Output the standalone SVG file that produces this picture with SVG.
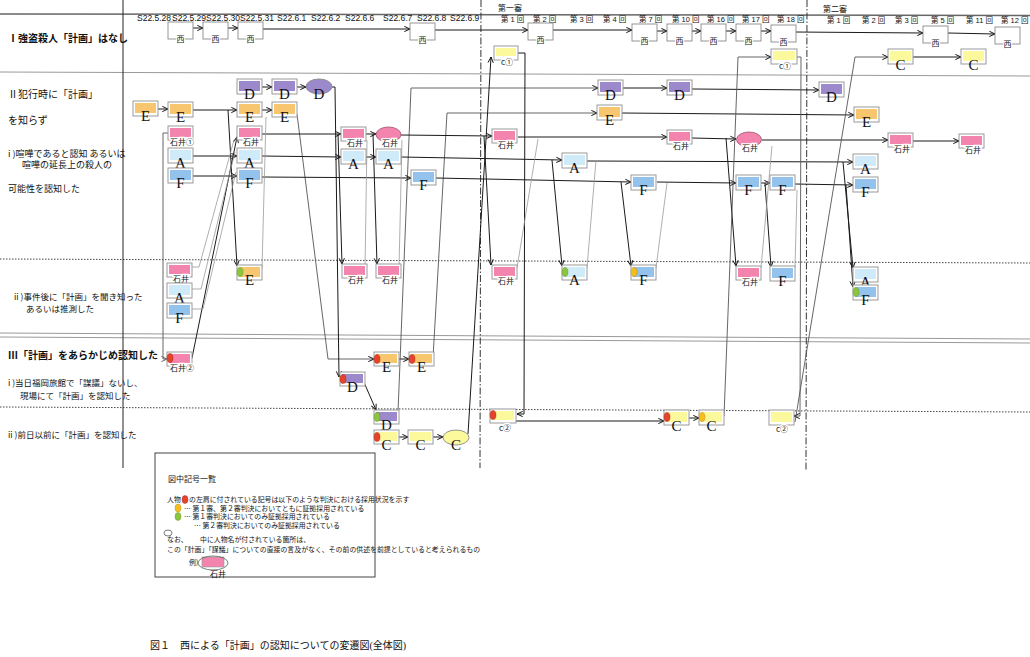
<svg xmlns="http://www.w3.org/2000/svg" width="1030" height="657" viewBox="0 0 1030 657">
<defs>
<style>
.c{fill:none;stroke:#1a1a1a;stroke-width:1}
.m{fill:none;stroke:#555;stroke-width:0.9}
.g{fill:none;stroke:#9a9a9a;stroke-width:0.8}
.b{fill:#fff;stroke:#9a9a9a;stroke-width:1}
.nb{fill:#fff;stroke:#8a8a8a;stroke-width:0.9}
.fE{fill:#F8C66E}.fD{fill:#9C89CB}.fI{fill:#F384AE}.fA{fill:#CFEAF8}.fF{fill:#93C3EC}.fC{fill:#FBF99C}
.eo{stroke:#8a8a8a;stroke-width:0.9}
.L{font-family:"Liberation Serif",serif;font-size:15px;text-anchor:middle;fill:#111}
.s{font-family:"Liberation Sans","Noto Sans CJK JP",sans-serif;font-size:8px;text-anchor:middle;fill:#111}
.w{font-family:"Noto Sans CJK JP",sans-serif;font-size:8px;text-anchor:middle;fill:#222;stroke:#fff;stroke-width:2.5;paint-order:stroke}
.lab{font-family:"Noto Sans CJK JP",sans-serif;fill:#111}
.hd{font-family:"Liberation Sans",sans-serif;font-size:8.5px;fill:#111}
.tr{font-family:"Liberation Sans","Noto Sans CJK JP",sans-serif;font-size:7.5px;fill:#111}
.lg{font-family:"Noto Sans CJK JP",sans-serif;font-size:6.9px;fill:#111}
.rd{fill:#E5432B;stroke:#a02010;stroke-width:0.4}.gr{fill:#8CC63F;stroke:#5a8a20;stroke-width:0.4}.yl{fill:#F5BE1E;stroke:#b08010;stroke-width:0.4}
.sep{fill:none;stroke:#999;stroke-width:1}
.dot{fill:none;stroke:#444;stroke-width:1;stroke-dasharray:1.5 1.5}
.dd{fill:none;stroke:#333;stroke-width:1;stroke-dasharray:7 2 1.5 2}
</style>
<marker id="ah" viewBox="0 0 8 8" refX="7.5" refY="4" markerWidth="7" markerHeight="7" orient="auto" markerUnits="userSpaceOnUse"><path d="M1,1 L7.5,4 L1,7" fill="none" stroke="#111" stroke-width="1.1"/></marker>
<marker id="ahg" viewBox="0 0 8 8" refX="7.5" refY="4" markerWidth="7" markerHeight="7" orient="auto" markerUnits="userSpaceOnUse"><path d="M1,1 L7.5,4 L1,7" fill="none" stroke="#555" stroke-width="1"/></marker>
</defs>
<rect width="1030" height="657" fill="#fff"/>

<g id="frame">
<path d="M0,14 L1030,15.5" fill="none" stroke="#666" stroke-width="1.5"/>
<path class="sep" d="M0,72 L1030,76"/>
<path class="dot" d="M0,259 L1030,263"/>
<path class="sep" d="M0,333 L1030,339"/>
<path class="sep" d="M0,337 L1030,343"/>
<path class="dot" d="M0,407 L1030,412"/>
<path d="M123,0 L123,468" fill="none" stroke="#222" stroke-width="1"/>
<path class="dd" d="M481,0 L480,468"/>
<path class="dd" d="M807,0 L806,470"/>
</g>

<g id="headers">
<text class="hd" x="137" y="21">S22.5.28</text>
<text class="hd" x="172" y="21">S22.5.29</text>
<text class="hd" x="206" y="21">S22.5.30</text>
<text class="hd" x="240" y="21">S22.5.31</text>
<text class="hd" x="277" y="21">S22.6.1</text>
<text class="hd" x="311" y="21">S22.6.2</text>
<text class="hd" x="345" y="21">S22.6.6</text>
<text class="hd" x="383" y="21">S22.6.7</text>
<text class="hd" x="417" y="21">S22.6.8</text>
<text class="hd" x="450" y="21">S22.6.9</text>
<text class="lab" x="498" y="11" font-size="8">第一審</text>
<text class="lab" x="823" y="12" font-size="8">第二審</text>
<text class="tr" x="501" y="22">第 1 回</text>
<text class="tr" x="533" y="22">第 2 回</text>
<text class="tr" x="570" y="22">第 3 回</text>
<text class="tr" x="603" y="22">第 4 回</text>
<text class="tr" x="639" y="22">第 7 回</text>
<text class="tr" x="672" y="22">第 10 回</text>
<text class="tr" x="707" y="22">第 16 回</text>
<text class="tr" x="742" y="22">第 17 回</text>
<text class="tr" x="777" y="22">第 18 回</text>
<text class="tr" x="827" y="23">第 1 回</text>
<text class="tr" x="862" y="23">第 2 回</text>
<text class="tr" x="895" y="23">第 3 回</text>
<text class="tr" x="931" y="23">第 5 回</text>
<text class="tr" x="966" y="23">第 11 回</text>
<text class="tr" x="1001" y="23">第 12 回</text>
</g>

<g id="row-labels">
<text class="lab" x="8" y="42" font-size="10" font-weight="bold">Ⅰ強盗殺人「計画」はなし</text>
<text class="lab" x="8" y="98" font-size="10">Ⅱ犯行時に「計画」</text>
<text class="lab" x="8" y="124" font-size="10">を知らず</text>
<text class="lab" x="8" y="157" font-size="9">i )喧嘩であると認知 あるいは</text>
<text class="lab" x="22" y="168" font-size="9">喧嘩の延長上の殺人の</text>
<text class="lab" x="8" y="192" font-size="9">可能性を認知した</text>
<text class="lab" x="14" y="300" font-size="8.5">ii )事件後に「計画」を聞き知った</text>
<text class="lab" x="26" y="312" font-size="8.5">あるいは推測した</text>
<text class="lab" x="8" y="359" font-size="10" font-weight="bold">Ⅲ「計画」をあらかじめ認知した</text>
<text class="lab" x="8" y="386" font-size="8.5">i )当日福岡旅館で「謀議」ないし、</text>
<text class="lab" x="20" y="399" font-size="8.5">現場にて「計画」を認知した</text>
<text class="lab" x="8" y="438" font-size="8.5">ii )前日以前に「計画」を認知した</text>
</g>

<g id="connectors">
<path class="c" marker-end="url(#ah)" d="M193,28 L203,28"/>
<path class="c" marker-end="url(#ah)" d="M228,28 L238,28"/>
<path class="c" marker-end="url(#ah)" d="M263,29 L410,29"/>
<path class="c" marker-end="url(#ah)" d="M435,30 L528,30"/>
<path class="c" marker-end="url(#ah)" d="M553,30 L632,30"/>
<path class="c" marker-end="url(#ah)" d="M657,31 L667,31"/>
<path class="c" marker-end="url(#ah)" d="M692,31 L701,31"/>
<path class="c" marker-end="url(#ah)" d="M726,31 L736,31"/>
<path class="c" marker-end="url(#ah)" d="M761,31 L771,31"/>
<path class="c" marker-end="url(#ah)" d="M796,32 L923,33"/>
<path class="c" marker-end="url(#ah)" d="M948,33 L995,34"/>

<path class="c" marker-end="url(#ah)" d="M158,109 L168,109"/>
<path class="c" marker-end="url(#ah)" d="M193,110 L237,110"/>
<path class="c" marker-end="url(#ah)" d="M228,110 L237,266"/>
<path class="c" marker-end="url(#ah)" d="M262,110 L272,110"/>
<path class="m" marker-end="url(#ah)" d="M297,114 L328,359 L374,359"/>
<path class="c" marker-end="url(#ah)" d="M398,359 L409,359"/>
<path class="m" marker-end="url(#ah)" d="M433,358 L447,113 L597,113"/>
<path class="c" marker-end="url(#ah)" d="M622,113 L854,115"/>

<path class="c" marker-end="url(#ah)" d="M262,87 L272,87"/>
<path class="c" marker-end="url(#ah)" d="M297,87 L306,87"/>
<path class="c" marker-end="url(#ah)" d="M332,87 L335,87 L339,377"/>
<path class="c" marker-end="url(#ah)" d="M363,380 L376,410"/>
<path class="m" marker-end="url(#ah)" d="M398,412 L411,88 L598,88"/>
<path class="c" marker-end="url(#ah)" d="M623,88 L667,88"/>
<path class="c" marker-end="url(#ah)" d="M692,89 L819,90"/>

<path class="m" marker-end="url(#ahg)" d="M168,133 L163,133 L163,359 L167,359"/>
<path class="c" marker-end="url(#ah)" d="M192,358 L237,137"/>
<path class="c" marker-end="url(#ah)" d="M262,134 L341,134"/>
<path class="c" marker-end="url(#ah)" d="M365,134 L376,134"/>
<path class="c" marker-end="url(#ah)" d="M338,134 L342,264"/>
<path class="c" marker-end="url(#ah)" d="M373,134 L377,264"/>
<path class="c" marker-end="url(#ah)" d="M401,135 L492,136"/>
<path class="c" marker-end="url(#ah)" d="M484,136 L491,265"/>
<path class="c" marker-end="url(#ah)" d="M518,137 L667,137"/>
<path class="c" marker-end="url(#ah)" d="M692,138 L736,139"/>
<path class="c" marker-end="url(#ah)" d="M726,138 L736,266"/>
<path class="c" marker-end="url(#ah)" d="M762,140 L888,140"/>
<path class="c" marker-end="url(#ah)" d="M913,141 L959,141"/>

<path class="c" marker-end="url(#ah)" d="M193,156 L237,156"/>
<path class="c" marker-end="url(#ah)" d="M262,156 L341,157"/>
<path class="c" marker-end="url(#ah)" d="M366,157 L376,157"/>
<path class="c" marker-end="url(#ah)" d="M401,157 L562,160"/>
<path class="c" marker-end="url(#ah)" d="M552,160 L562,266"/>
<path class="c" marker-end="url(#ah)" d="M587,161 L853,162"/>
<path class="c" marker-end="url(#ah)" d="M843,162 L853,268"/>

<path class="c" marker-end="url(#ah)" d="M193,176 L237,176"/>
<path class="c" marker-end="url(#ah)" d="M262,177 L411,178"/>
<path class="c" marker-end="url(#ah)" d="M436,178 L631,182"/>
<path class="c" marker-end="url(#ah)" d="M621,182 L631,266"/>
<path class="c" marker-end="url(#ah)" d="M657,182 L736,183"/>
<path class="c" marker-end="url(#ah)" d="M761,183 L770,183"/>
<path class="c" marker-end="url(#ah)" d="M765,183 L771,267"/>
<path class="c" marker-end="url(#ah)" d="M795,184 L853,185"/>
<path class="c" marker-end="url(#ah)" d="M846,185 L853,287"/>

<path class="c" marker-end="url(#ah)" d="M398,437 L408,437"/>
<path class="c" marker-end="url(#ah)" d="M433,437 L443,437"/>
<path class="c" marker-end="url(#ah)" d="M468,434 L491,57"/>
<path class="c" marker-end="url(#ah)" d="M518,53 L525,53 L524,414 L517,414"/>
<path class="c" marker-end="url(#ah)" d="M516,421 L664,421"/>
<path class="c" marker-end="url(#ah)" d="M689,418 L699,418"/>
<path class="m" marker-end="url(#ah)" d="M724,416 L738,57 L771,57"/>
<path class="m" marker-end="url(#ah)" d="M797,57 L801,57 L800,416 L794,416"/>
<path class="m" marker-end="url(#ah)" d="M795,422 L855,57 L888,57"/>
<path class="c" marker-end="url(#ah)" d="M913,57 L961,57"/>

<path class="g" d="M192,267 L199,267 L234,140"/>
<path class="g" d="M192,289 L201,289 L235,152"/>
<path class="g" d="M192,309 L203,309 L236,172"/>
<path class="g" d="M262,268 L266,117"/>
<path class="g" d="M365,268 L367,140"/>
<path class="g" d="M399,268 L402,140"/>
<path class="g" d="M517,268 L538,139"/>
<path class="g" d="M587,268 L596,160"/>
<path class="g" d="M656,268 L667,183"/>
<path class="g" d="M761,268 L772,146"/>
<path class="g" d="M795,268 L797,190"/>
</g>

<g id="n-nishi">
<g id="w1"><rect class="nb" x="168" y="22" width="25" height="17"/><text class="w" x="180.5" y="42">西</text></g>
<g id="w2"><rect class="nb" x="203" y="22" width="25" height="17"/><text class="w" x="215.5" y="42">西</text></g>
<g id="w3"><rect class="nb" x="238" y="22" width="25" height="17"/><text class="w" x="250.5" y="42">西</text></g>
<g id="w4"><rect class="nb" x="410" y="23" width="25" height="17"/><text class="w" x="422.5" y="43">西</text></g>
<g id="w5"><rect class="nb" x="528" y="23" width="25" height="17"/><text class="w" x="540.5" y="43">西</text></g>
<g id="w6"><rect class="nb" x="632" y="24" width="25" height="17"/><text class="w" x="644.5" y="44">西</text></g>
<g id="w7"><rect class="nb" x="667" y="24" width="25" height="17"/><text class="w" x="679.5" y="44">西</text></g>
<g id="w8"><rect class="nb" x="701" y="24" width="25" height="17"/><text class="w" x="713.5" y="44">西</text></g>
<g id="w9"><rect class="nb" x="736" y="24" width="25" height="17"/><text class="w" x="748.5" y="44">西</text></g>
<g id="w10"><rect class="nb" x="771" y="25" width="25" height="17"/><text class="w" x="783.5" y="45">西</text></g>
<g id="w11"><rect class="nb" x="923" y="26" width="25" height="17"/><text class="w" x="935.5" y="46">西</text></g>
<g id="w12"><rect class="nb" x="995" y="27" width="25" height="17"/><text class="w" x="1007.5" y="47">西</text></g>
</g>

<g id="n-c1a"><rect class="b" x="494" y="46" width="24" height="14"/><rect class="fC" x="496" y="48" width="20" height="8"/><text class="w" x="507" y="65">c①</text></g>
<g id="n-c1b"><rect class="b" x="771" y="49" width="26" height="15"/><rect class="fC" x="773" y="51" width="22" height="9"/><text class="w" x="785" y="69">c①</text></g>
<g id="n-C5"><rect class="b" x="888" y="49" width="25" height="15"/><rect class="fC" x="890" y="51" width="21" height="10"/><text class="L" x="900.5" y="70">C</text></g>
<g id="n-C6"><rect class="b" x="961" y="49" width="25" height="15"/><rect class="fC" x="963" y="51" width="21" height="10"/><text class="L" x="973.5" y="70">C</text></g>

<g id="n-E0"><rect class="b" x="133" y="101" width="25" height="15"/><rect class="fE" x="135" y="103" width="21" height="10"/><text class="L" x="145.5" y="121">E</text></g>
<g id="n-E1"><rect class="b" x="168" y="102" width="25" height="15"/><rect class="fE" x="170" y="104" width="21" height="10"/><text class="L" x="180.5" y="122">E</text></g>
<g id="n-D1"><rect class="b" x="237" y="79" width="25" height="15"/><rect class="fD" x="239" y="81" width="21" height="10"/><text class="L" x="249.5" y="99">D</text></g>
<g id="n-D2"><rect class="b" x="272" y="79" width="25" height="15"/><rect class="fD" x="274" y="81" width="21" height="10"/><text class="L" x="284.5" y="99">D</text></g>
<g id="n-D3"><ellipse class="fD eo" cx="319" cy="86.5" rx="13" ry="7.5"/><text class="L" x="319" y="99">D</text></g>
<g id="n-E2"><rect class="b" x="237" y="102" width="25" height="15"/><rect class="fE" x="239" y="104" width="21" height="10"/><text class="L" x="249.5" y="122">E</text></g>
<g id="n-E3"><rect class="b" x="272" y="102" width="25" height="15"/><rect class="fE" x="274" y="104" width="21" height="10"/><text class="L" x="284.5" y="122">E</text></g>
<g id="n-I1"><rect class="b" x="168" y="126" width="25" height="14"/><rect class="fI" x="170" y="128" width="21" height="9"/><text class="w" x="182" y="145">石井①</text></g>
<g id="n-I2"><rect class="b" x="237" y="126" width="25" height="14"/><rect class="fI" x="239" y="128" width="21" height="9"/><text class="w" x="251" y="145">石井</text></g>
<g id="n-I3"><rect class="b" x="341" y="127" width="25" height="14"/><rect class="fI" x="343" y="129" width="21" height="9"/><text class="w" x="355" y="146">石井</text></g>
<g id="n-I4"><ellipse class="fI" cx="388.5" cy="134.5" rx="12.5" ry="7.5" stroke="#a05070" stroke-width="0.8"/><text class="w" x="390" y="146">石井</text></g>
<g id="n-A1"><rect class="b" x="168" y="148" width="25" height="15"/><rect class="fA" x="170" y="150" width="21" height="10"/><text class="L" x="180.5" y="168">A</text></g>
<g id="n-A2"><rect class="b" x="237" y="148" width="25" height="15"/><rect class="fA" x="239" y="150" width="21" height="10"/><text class="L" x="249.5" y="168">A</text></g>
<g id="n-A3"><rect class="b" x="341" y="149" width="25" height="15"/><rect class="fA" x="343" y="151" width="21" height="10"/><text class="L" x="353.5" y="169">A</text></g>
<g id="n-A4"><rect class="b" x="376" y="149" width="25" height="15"/><rect class="fA" x="378" y="151" width="21" height="10"/><text class="L" x="388.5" y="169">A</text></g>
<g id="n-F1"><rect class="b" x="168" y="168" width="25" height="15"/><rect class="fF" x="170" y="170" width="21" height="10"/><text class="L" x="180.5" y="188">F</text></g>
<g id="n-F2"><rect class="b" x="237" y="168" width="25" height="15"/><rect class="fF" x="239" y="170" width="21" height="10"/><text class="L" x="249.5" y="188">F</text></g>
<g id="n-F3"><rect class="b" x="411" y="170" width="25" height="15"/><rect class="fF" x="413" y="172" width="21" height="10"/><text class="L" x="423.5" y="190">F</text></g>
<g id="n-D4"><rect class="b" x="598" y="80" width="25" height="15"/><rect class="fD" x="600" y="82" width="21" height="10"/><text class="L" x="610.5" y="100">D</text></g>
<g id="n-D5"><rect class="b" x="667" y="80" width="25" height="15"/><rect class="fD" x="669" y="82" width="21" height="10"/><text class="L" x="679.5" y="100">D</text></g>
<g id="n-D6"><rect class="b" x="819" y="82" width="25" height="15"/><rect class="fD" x="821" y="84" width="21" height="10"/><text class="L" x="831.5" y="102">D</text></g>
<g id="n-E4"><rect class="b" x="597" y="105" width="25" height="15"/><rect class="fE" x="599" y="107" width="21" height="10"/><text class="L" x="609.5" y="125">E</text></g>
<g id="n-E5"><rect class="b" x="854" y="107" width="25" height="15"/><rect class="fE" x="856" y="109" width="21" height="10"/><text class="L" x="866.5" y="127">E</text></g>
<g id="n-I5"><rect class="b" x="492" y="129" width="25" height="14"/><rect class="fI" x="494" y="131" width="21" height="9"/><text class="w" x="506" y="148">石井</text></g>
<g id="n-I6"><rect class="b" x="667" y="130" width="25" height="14"/><rect class="fI" x="669" y="132" width="21" height="9"/><text class="w" x="681" y="149">石井</text></g>
<g id="n-I7"><ellipse class="fI" cx="749" cy="139.5" rx="12.5" ry="7.5" stroke="#a05070" stroke-width="0.8"/><text class="w" x="750" y="151">石井</text></g>
<g id="n-I8"><rect class="b" x="888" y="133" width="25" height="14"/><rect class="fI" x="890" y="135" width="21" height="9"/><text class="w" x="902" y="152">石井</text></g>
<g id="n-I9"><rect class="b" x="959" y="134" width="25" height="14"/><rect class="fI" x="961" y="136" width="21" height="9"/><text class="w" x="973" y="153">石井</text></g>
<g id="n-A5"><rect class="b" x="562" y="153" width="25" height="15"/><rect class="fA" x="564" y="155" width="21" height="10"/><text class="L" x="574.5" y="173">A</text></g>
<g id="n-A6"><rect class="b" x="853" y="154" width="25" height="15"/><rect class="fA" x="855" y="156" width="21" height="10"/><text class="L" x="865.5" y="174">A</text></g>
<g id="n-F4"><rect class="b" x="631" y="175" width="25" height="15"/><rect class="fF" x="633" y="177" width="21" height="10"/><text class="L" x="643.5" y="195">F</text></g>
<g id="n-F5"><rect class="b" x="736" y="175" width="25" height="15"/><rect class="fF" x="738" y="177" width="21" height="10"/><text class="L" x="748.5" y="195">F</text></g>
<g id="n-F6"><rect class="b" x="770" y="175" width="25" height="15"/><rect class="fF" x="772" y="177" width="21" height="10"/><text class="L" x="782.5" y="195">F</text></g>
<g id="n-F7"><rect class="b" x="853" y="177" width="25" height="15"/><rect class="fF" x="855" y="179" width="21" height="10"/><text class="L" x="865.5" y="197">F</text></g>

<g id="n-I10"><rect class="b" x="167" y="263" width="25" height="14"/><rect class="fI" x="169" y="265" width="21" height="9"/><text class="w" x="181" y="282">石井</text></g>
<g id="n-A7"><rect class="b" x="167" y="283" width="25" height="15"/><rect class="fA" x="169" y="285" width="21" height="10"/><text class="L" x="179.5" y="303">A</text></g>
<g id="n-F8"><rect class="b" x="167" y="303" width="25" height="15"/><rect class="fF" x="169" y="305" width="21" height="10"/><text class="L" x="179.5" y="323">F</text></g>
<g id="n-E6"><rect class="b" x="237" y="265" width="25" height="15"/><rect class="fE" x="239" y="267" width="21" height="10"/><ellipse class="gr" cx="240" cy="272" rx="3" ry="4.5"/><text class="L" x="249.5" y="285">E</text></g>
<g id="n-I11"><rect class="b" x="342" y="264" width="25" height="14"/><rect class="fI" x="344" y="266" width="21" height="9"/><text class="w" x="356" y="283">石井</text></g>
<g id="n-I12"><rect class="b" x="376" y="264" width="25" height="14"/><rect class="fI" x="378" y="266" width="21" height="9"/><text class="w" x="390" y="283">石井</text></g>
<g id="n-I13"><rect class="b" x="492" y="265" width="25" height="14"/><rect class="fI" x="494" y="267" width="21" height="9"/><text class="w" x="506" y="284">石井</text></g>
<g id="n-A8"><rect class="b" x="562" y="265" width="25" height="15"/><rect class="fA" x="564" y="267" width="21" height="10"/><ellipse class="gr" cx="565" cy="272" rx="3" ry="4.5"/><text class="L" x="574.5" y="285">A</text></g>
<g id="n-F9"><rect class="b" x="631" y="265" width="25" height="15"/><rect class="fF" x="633" y="267" width="21" height="10"/><ellipse class="yl" cx="634" cy="272" rx="3" ry="4.5"/><text class="L" x="643.5" y="285">F</text></g>
<g id="n-I14"><rect class="b" x="736" y="266" width="25" height="14"/><rect class="fI" x="738" y="268" width="21" height="9"/><text class="w" x="750" y="285">石井</text></g>
<g id="n-F10"><rect class="b" x="770" y="266" width="25" height="15"/><rect class="fF" x="772" y="268" width="21" height="10"/><text class="L" x="782.5" y="286">F</text></g>
<g id="n-A9"><rect class="b" x="853" y="267" width="25" height="15"/><rect class="fA" x="855" y="269" width="21" height="10"/><text class="L" x="865.5" y="287">A</text></g>
<g id="n-F11"><rect class="b" x="853" y="285" width="25" height="15"/><rect class="fF" x="855" y="287" width="21" height="10"/><ellipse class="gr" cx="856" cy="292" rx="3" ry="4.5"/><text class="L" x="865.5" y="305">F</text></g>

<g id="n-I15"><rect class="b" x="167" y="352" width="25" height="14"/><rect class="fI" x="169" y="354" width="21" height="9"/><ellipse class="rd" cx="170" cy="358" rx="3" ry="4.5"/><text class="w" x="182" y="371">石井②</text></g>
<g id="n-E7"><rect class="b" x="374" y="352" width="25" height="14"/><rect class="fE" x="376" y="354" width="21" height="9"/><ellipse class="rd" cx="377" cy="359" rx="3" ry="4.5"/><text class="L" x="386.5" y="372">E</text></g>
<g id="n-E8"><rect class="b" x="409" y="352" width="25" height="14"/><rect class="fE" x="411" y="354" width="21" height="9"/><ellipse class="rd" cx="412" cy="359" rx="3" ry="4.5"/><text class="L" x="421.5" y="372">E</text></g>
<g id="n-D7"><rect class="b" x="340" y="372" width="25" height="14"/><rect class="fD" x="342" y="374" width="21" height="9"/><ellipse class="rd" cx="343" cy="379" rx="3" ry="4.5"/><text class="L" x="352.5" y="392">D</text></g>
<g id="n-D8"><rect class="b" x="374" y="410" width="25" height="14"/><rect class="fD" x="376" y="412" width="21" height="9"/><ellipse class="gr" cx="377" cy="417" rx="3" ry="4.5"/><text class="L" x="386.5" y="430">D</text></g>
<g id="n-C1"><rect class="b" x="374" y="430" width="25" height="14"/><rect class="fC" x="376" y="432" width="21" height="9"/><ellipse class="rd" cx="377" cy="437" rx="3" ry="4.5"/><text class="L" x="386.5" y="450">C</text></g>
<g id="n-C2"><rect class="b" x="408" y="430" width="25" height="14"/><rect class="fC" x="410" y="432" width="21" height="9"/><text class="L" x="420.5" y="450">C</text></g>
<g id="n-C3"><ellipse class="fC eo" cx="456" cy="437.5" rx="13" ry="7.5"/><text class="L" x="456" y="450">C</text></g>
<g id="n-c2a"><rect class="b" x="490" y="409" width="26" height="14"/><rect class="fC" x="492" y="411" width="22" height="9"/><ellipse class="rd" cx="493" cy="415" rx="3" ry="4.5"/><text class="w" x="505" y="431">c②</text></g>
<g id="n-C4"><rect class="b" x="664" y="410" width="25" height="15"/><rect class="fC" x="666" y="412" width="21" height="10"/><ellipse class="rd" cx="667" cy="417" rx="3" ry="4.5"/><text class="L" x="676.5" y="431">C</text></g>
<g id="n-C5b"><rect class="b" x="699" y="410" width="25" height="15"/><rect class="fC" x="701" y="412" width="21" height="10"/><ellipse class="yl" cx="702" cy="417" rx="3" ry="4.5"/><text class="L" x="711.5" y="431">C</text></g>
<g id="n-c2b"><rect class="b" x="769" y="410" width="25" height="15"/><rect class="fC" x="771" y="412" width="21" height="10"/><text class="w" x="782" y="432">c②</text></g>

<g id="legend">
<rect x="155" y="453" width="220" height="124" fill="#fff" stroke="#444" stroke-width="1"/>
<text class="lab" x="168" y="482" font-size="8">図中記号一覧</text>
<text class="lg" x="167" y="502">人物</text>
<ellipse class="rd" cx="185" cy="499.5" rx="3" ry="4"/>
<text class="lg" x="189" y="502">の左肩に付されている記号は以下のような判決における採用状況を示す</text>
<ellipse class="yl" cx="178" cy="508" rx="3" ry="4"/>
<text class="lg" x="184" y="510.5">… 第１審、第２審判決においてともに証拠採用されている</text>
<ellipse class="gr" cx="178" cy="516.5" rx="3" ry="4"/>
<text class="lg" x="184" y="519">… 第１審判決においてのみ証拠採用されている</text>
<text class="lg" x="194" y="528">… 第２審判決においてのみ証拠採用されている</text>
<ellipse cx="168" cy="533" rx="4" ry="3" fill="#fff" stroke="#444" stroke-width="0.7"/>
<text class="lg" x="167" y="542">なお、</text>
<text class="lg" x="200" y="542">中に人物名が付されている箇所は、</text>
<text class="lg" x="167" y="552">この「計画」「謀議」についての直接の言及がなく、その前の供述を前提としていると考えられるもの</text>
<text class="lg" x="189" y="565" font-size="7.5">例)</text>
<rect class="fI" x="202" y="557" width="22" height="10" stroke="#999" stroke-width="0.6"/>
<ellipse cx="213" cy="563" rx="15" ry="7" fill="none" stroke="#4a6a5a" stroke-width="0.8"/>
<text class="s" x="218" y="577">石井</text>
</g>

<text id="caption" x="150" y="649" font-family="'Liberation Serif','Noto Sans CJK JP',serif" font-size="10" fill="#111">図１　西による「計画」の認知についての変遷図(全体図)</text>
</svg>
